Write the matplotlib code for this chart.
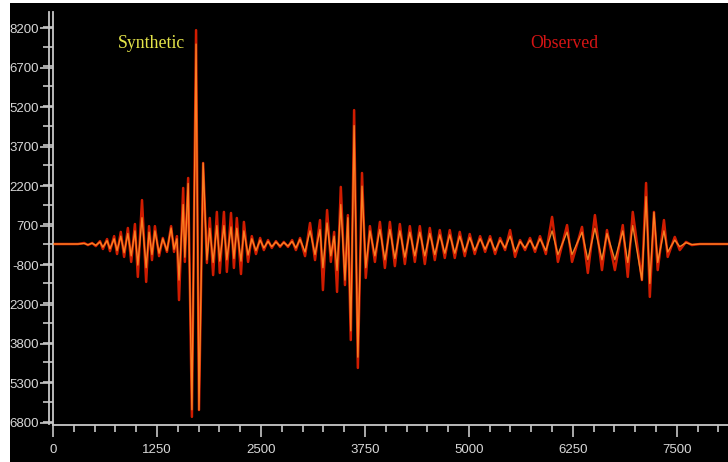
import matplotlib
matplotlib.use("Agg")
import matplotlib.pyplot as plt
from matplotlib.lines import Line2D
from matplotlib.patches import Rectangle
from matplotlib.ticker import MultipleLocator

# ---- data ----
time = [0, 300, 375, 420, 470, 515, 565, 600, 650, 685, 735, 770, 815, 855, 900,
        940, 985, 1020, 1070, 1120, 1155, 1190, 1225, 1275, 1320, 1370, 1420, 1455,
        1490, 1515, 1565, 1585, 1625, 1670, 1720, 1755, 1805, 1850, 1885, 1925, 1970,
        2005, 2055, 2090, 2140, 2175, 2210, 2260, 2295, 2345, 2390, 2440, 2490, 2535,
        2585, 2630, 2680, 2730, 2775, 2825, 2875, 2920, 2970, 3030, 3090, 3150, 3210,
        3245, 3295, 3340, 3380, 3415, 3460, 3510, 3545, 3580, 3620, 3665, 3715, 3760,
        3810, 3870, 3930, 3990, 4050, 4110, 4170, 4230, 4290, 4350, 4410, 4470, 4530,
        4590, 4650, 4710, 4770, 4830, 4890, 4950, 5010, 5070, 5135, 5195, 5255, 5315,
        5375, 5435, 5495, 5555, 5615, 5675, 5735, 5795, 5855, 5925, 6000, 6070, 6180,
        6240, 6360, 6430, 6515, 6600, 6660, 6755, 6850, 6910, 6970, 7080, 7130, 7175,
        7225, 7270, 7345, 7390, 7475, 7535, 7610, 7680, 7775, 8110]

observed = [0, 0, 40, -40, 40, -80, 110, -190, 190, -270, 300, -380, 460, -490, 610,
            -680, 760, -1250, 1670, -1440, 680, -610, 680, -460, 230, -300, 680, -300,
            300, -2130, 2130, -680, 2510, -6570, 8130, -6310, 3080, -720, 990, -1180, 1220,
            -1100, 1220, -1060, 1180, -910, 990, -1140, 840, -680, 300, -380, 230, -230,
            150, -150, 110, -110, 80, -110, 150, -230, 230, -460, 800, -610, 910,
            -1750, 1290, -680, 460, -1820, 2170, -1560, 1100, -3650, 5090, -4710, 2700, -1290,
            680, -680, 840, -910, 840, -840, 760, -760, 680, -680, 680, -760, 610,
            -610, 530, -530, 530, -530, 460, -460, 380, -380, 300, -300, 300, -380,
            230, -230, 530, -490, 150, -230, 230, -300, 300, -380, 1030, -680, 720,
            -680, 650, -1100, 1100, -990, 530, -990, 720, -1250, 1220, -1370, 2320, -2010,
            1220, -990, 910, -490, 270, -230, 80, -40, 0, 0]

synthetic = [0, 0, 20, -30, 30, -50, 80, -120, 130, -180, 200, -250, 300, -330, 400,
             -450, 500, -800, 1000, -900, 450, -400, 500, -350, 200, -250, 610, -200,
             200, -1370, 1500, -500, 2300, -6300, 7600, -6310, 3080, -600, 600, -700, 700,
             -650, 700, -600, 650, -550, 600, -650, 500, -420, 200, -250, 150, -150,
             100, -100, 80, -80, 60, -80, 100, -150, 180, -300, 500, -400, 550,
             -900, 800, -450, 300, -1000, 1500, -1370, 1000, -3300, 4500, -4300, 2200, -900,
             500, -450, 550, -600, 550, -550, 500, -500, 450, -450, 450, -450, 400,
             -400, 350, -350, 350, -350, 300, -300, 250, -250, 200, -200, 200, -250,
             150, -150, 300, -300, 100, -150, 150, -200, 200, -250, 500, -400, 450,
             -400, 450, -600, 600, -600, 400, -600, 500, -700, 700, -1370, 1800, -1500,
             1200, -700, 500, -300, 150, -100, 50, -20, 0, 0]

y_ticks = [8200, 6700, 5200, 3700, 2200, 700, -800, -2300, -3800, -5300, -6800]
y_tick_labels = ["8200", "6700", "5200", "3700", "2200", "700", "-800",
                 "2300", "3800", "5300", "6800"]
x_ticks = [0, 1250, 2500, 3750, 5000, 6250, 7500]
x_tick_labels = ["0", "1250", "2500", "3750", "5000", "6250", "7500"]
series_names = ["Synthetic", "Observed"]

# ---- figure ----
W, H = 728, 462
fig = plt.figure(figsize=(W / 100, H / 100), dpi=100, facecolor="black")
fig.patches.append(Rectangle((0, 0), 10 / W, 1, transform=fig.transFigure,
                             facecolor="white", edgecolor="none"))
fig.patches.append(Rectangle((0, 1 - 3 / H), 1, 3 / H, transform=fig.transFigure,
                             facecolor="white", edgecolor="none"))

ax = fig.add_axes([53 / W, 37 / H, 675 / W, 413 / H])
ax.set_facecolor("black")

ax.plot(time, observed, color="#d01c00", lw=1.8, solid_joinstyle="round", zorder=2)
ax.plot(time, synthetic, color="#ff8c26", lw=1.0, alpha=0.9,
        solid_joinstyle="round", zorder=3)

ax.set_xlim(0, 8115)
ax.set_ylim(-6880, 8820)

axis_col = "#c8c8c8"
for s in ["top", "right"]:
    ax.spines[s].set_visible(False)
for s in ["left", "bottom"]:
    ax.spines[s].set_color(axis_col)
    ax.spines[s].set_linewidth(1.3)

# second (outer) line of the doubled y axis
fig.add_artist(Line2D([49.5 / W, 49.5 / W], [1 - 424 / H, 1 - 12 / H],
                      transform=fig.transFigure, color=axis_col, lw=1.3))

ax.set_yticks(y_ticks)
ax.set_yticklabels(y_tick_labels)
ax.yaxis.set_minor_locator(MultipleLocator(750))
ax.set_xticks(x_ticks)
ax.set_xticklabels(x_tick_labels)
ax.xaxis.set_minor_locator(MultipleLocator(250))

font = "Liberation Sans"
ax.tick_params(axis="y", which="major", length=9.4, width=1.2, color=axis_col,
               labelcolor="#d8d8d8", labelsize=9.5, pad=1)
ax.tick_params(axis="y", which="minor", length=7.2, width=1.2, color=axis_col)
ax.tick_params(axis="x", which="major", length=8.6, width=1.2, color=axis_col,
               labelcolor="#d8d8d8", labelsize=9.5, pad=5)
ax.tick_params(axis="x", which="minor", length=5, width=1.2, color=axis_col)
for lab in ax.get_xticklabels() + ax.get_yticklabels():
    lab.set_fontfamily(font)

fig.text(118 / W, 1 - 44 / H, series_names[0], color="#e4e44a", fontsize=12.8,
         family="Liberation Serif", va="center", ha="left")
fig.text(530 / W, 1 - 44 / H, series_names[1], color="#d41414", fontsize=12.8,
         family="Liberation Serif", va="center", ha="left")

fig.savefig("out.png", dpi=100, facecolor="black")
